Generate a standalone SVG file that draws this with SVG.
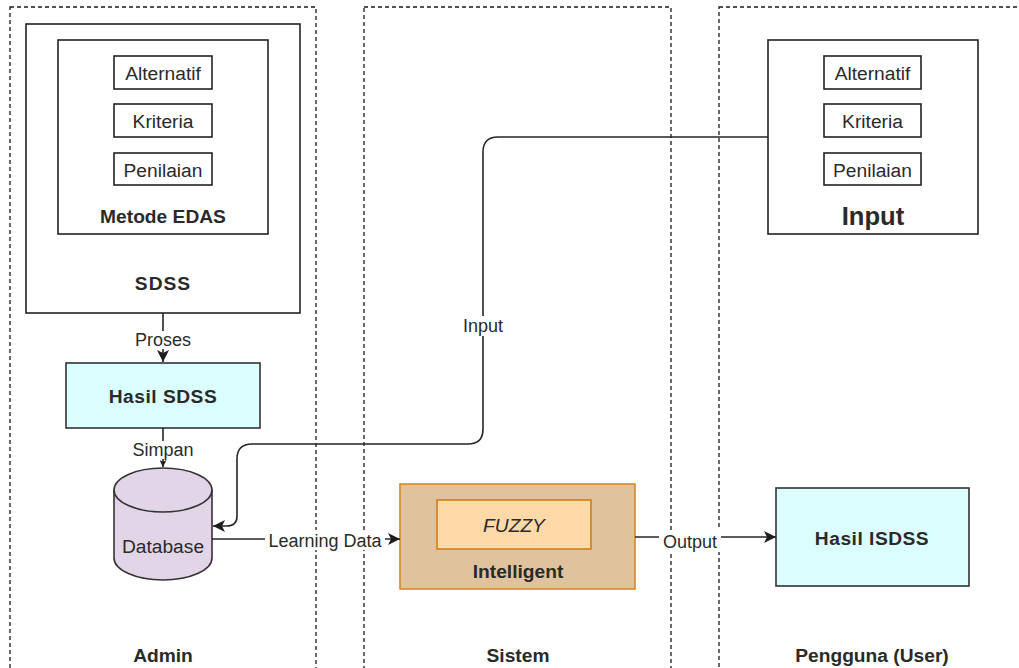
<svg xmlns="http://www.w3.org/2000/svg" width="1019" height="668" viewBox="0 0 1019 668">
  <style>
    text { font-family: "Liberation Sans", Arial, sans-serif; fill: #2a2a2a; text-anchor: middle; }
    .node { font-size: 19.2px; }
    .bold { font-weight: bold; }
    .edge-label { font-size: 18px; }
    .box { fill: #ffffff; stroke: #222222; stroke-width: 1.6; }
    .item { fill: #ffffff; stroke: #222222; stroke-width: 1.6; }
    .result { fill: #dbffff; stroke: #333333; stroke-width: 1.6; }
    .lane { fill: none; stroke: #1a1a1a; stroke-width: 1.3; stroke-dasharray: 4 3; }
    .edge { fill: none; stroke: #262626; stroke-width: 1.6; }
    .lbl-bg { fill: #ffffff; }
  </style>
  <defs>
    <marker id="arrow" markerUnits="userSpaceOnUse" viewBox="0 0 12 12" refX="12" refY="6" markerWidth="12" markerHeight="12" orient="auto">
      <path d="M0,0 L12,6 L0,12 L3,6 Z" fill="#1e1e1e"/>
    </marker>
    <marker id="arrow-small" markerUnits="userSpaceOnUse" viewBox="0 0 12 12" refX="12" refY="6" markerWidth="7" markerHeight="7" orient="auto">
      <path d="M0,0 L12,6 L0,12 L3,6 Z" fill="#1e1e1e"/>
    </marker>
  </defs>

  <rect width="1019" height="668" fill="#ffffff"/>

  <!-- Swimlanes -->
  <g id="lane-admin">
    <rect class="lane" x="10" y="7" width="306" height="700"/>
    <text class="node bold" x="163" y="662">Admin</text>
  </g>
  <g id="lane-sistem">
    <rect class="lane" x="364" y="7" width="307" height="700"/>
    <text class="node bold" x="518" y="662">Sistem</text>
  </g>
  <g id="lane-pengguna">
    <rect class="lane" x="719" y="7" width="400" height="700"/>
    <text class="node bold" x="872" y="662">Pengguna (User)</text>
  </g>

  <!-- Admin lane content -->
  <g id="sdss">
    <rect class="box" x="26" y="24" width="274" height="289"/>
    <text class="node bold" x="163" y="290" letter-spacing="1">SDSS</text>
  </g>
  <g id="metode-edas">
    <rect class="box" x="58" y="40" width="210" height="194"/>
    <text class="node bold" x="163" y="223">Metode EDAS</text>
  </g>
  <g id="admin-alternatif">
    <rect class="item" x="114" y="56" width="98" height="33"/>
    <text class="node" x="163" y="80">Alternatif</text>
  </g>
  <g id="admin-kriteria">
    <rect class="item" x="114" y="104" width="98" height="33"/>
    <text class="node" x="163" y="128">Kriteria</text>
  </g>
  <g id="admin-penilaian">
    <rect class="item" x="114" y="153" width="98" height="32"/>
    <text class="node" x="163" y="177">Penilaian</text>
  </g>
  <g id="hasil-sdss">
    <rect class="result" x="66" y="363" width="194" height="65"/>
    <text class="node bold" x="163" y="403" letter-spacing="0.5">Hasil SDSS</text>
  </g>
  <g id="database">
    <path d="M114,490 A49,22 0 0 1 212,490 L212,558 A49,22 0 0 1 114,558 Z" fill="#e1d5e7" stroke="#333333" stroke-width="1.6"/>
    <path d="M114,490 A49,22 0 0 0 212,490" fill="none" stroke="#333333" stroke-width="1.6"/>
    <text class="node" x="163" y="553">Database</text>
  </g>

  <!-- Sistem lane content -->
  <g id="intelligent">
    <rect x="400" y="484" width="235" height="105" fill="#e0c39d" stroke="#d48a2a" stroke-width="1.6"/>
    <text class="node bold" x="518" y="578">Intelligent</text>
  </g>
  <g id="fuzzy">
    <rect x="437" y="500" width="154" height="49" fill="#ffd9a8" stroke="#d07f1c" stroke-width="1.6"/>
    <text class="node" x="514" y="532" font-style="italic">FUZZY</text>
  </g>

  <!-- Pengguna lane content -->
  <g id="input">
    <rect class="box" x="768" y="40" width="210" height="194"/>
    <text class="bold" x="873" y="225" font-size="25.6">Input</text>
  </g>
  <g id="user-alternatif">
    <rect class="item" x="824" y="56" width="97" height="33"/>
    <text class="node" x="872.5" y="80">Alternatif</text>
  </g>
  <g id="user-kriteria">
    <rect class="item" x="824" y="104" width="97" height="33"/>
    <text class="node" x="872.5" y="128">Kriteria</text>
  </g>
  <g id="user-penilaian">
    <rect class="item" x="824" y="153" width="97" height="32"/>
    <text class="node" x="872.5" y="177">Penilaian</text>
  </g>
  <g id="hasil-isdss">
    <rect class="result" x="776" y="488" width="193" height="98"/>
    <text class="node bold" x="872" y="545" letter-spacing="0.5">Hasil ISDSS</text>
  </g>

  <!-- Connectors -->
  <g id="connectors">
    <path class="edge" d="M163,313 L163,362" marker-end="url(#arrow)"/>
    <path class="edge" d="M163,428 L163,467" marker-end="url(#arrow-small)"/>
    <path class="edge" d="M768,137 L498,137 Q483,137 483,152 L483,429 Q483,444 468,444 L252,444 Q237,444 237,459 L237,516 Q237,526 227,526 L213,526" marker-end="url(#arrow)"/>
    <path class="edge" d="M212,539 L400,539" marker-end="url(#arrow)"/>
    <path class="edge" d="M635,537 L776,537" stroke="#444444" marker-end="url(#arrow)"/>

    <rect class="lbl-bg" x="135" y="331" width="56" height="18"/>
    <text class="edge-label" x="163" y="346">Proses</text>
    <rect class="lbl-bg" x="132" y="441" width="62" height="18"/>
    <text class="edge-label" x="163" y="456">Simpan</text>
    <rect class="lbl-bg" x="462" y="316" width="42" height="20"/>
    <text class="edge-label" x="483" y="332">Input</text>
    <rect class="lbl-bg" x="265" y="530" width="120" height="20"/>
    <text class="edge-label" x="325" y="547">Learning Data</text>
    <rect class="lbl-bg" x="659" y="530" width="62" height="22"/>
    <text class="edge-label" x="690" y="548">Output</text>
  </g>
</svg>
